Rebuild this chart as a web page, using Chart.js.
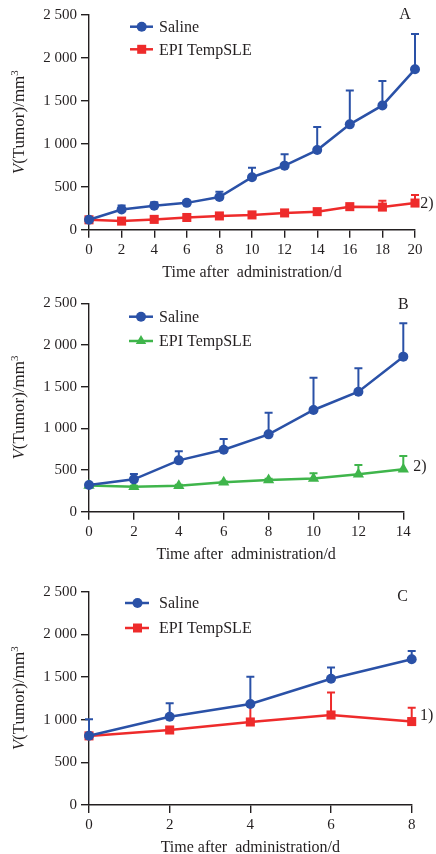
<!DOCTYPE html>
<html><head><meta charset="utf-8">
<script src="https://cdn.jsdelivr.net/npm/chart.js@4/dist/chart.umd.min.js"></script>
<style>
html,body{margin:0;padding:0;background:#fff;}
body{width:436px;height:854px;position:relative;overflow:hidden;}
.p{position:absolute;left:0;width:436px;}
canvas{display:block;}
</style></head>
<body>
<div class="p" style="top:0;height:280px"><canvas id="cA" width="436" height="280"></canvas></div>
<div class="p" style="top:280px;height:280px"><canvas id="cB" width="436" height="280"></canvas></div>
<div class="p" style="top:560px;height:294px"><canvas id="cC" width="436" height="294"></canvas></div>
<script>
// ---- data ----
const daysA=[0,2,4,6,8,10,12,14,16,18,20];
const salineA=[115,235,278,312,380,610,745,926,1225,1445,1865];
const salineA_err=[10,45,42,10,62,111,131,268,395,284,410];
const epiA=[115,100,120,142,160,172,195,210,268,263,310];
const epiA_err=[15,10,10,10,10,10,10,10,10,74,93];

const daysB=[0,2,4,6,8,10,12,14];
const salineB=[320,388,616,744,928,1220,1440,1860];
const salineB_err=[10,64,108,128,260,388,280,400];
const epiB=[315,300,312,352,380,398,449,508];
const epiB_err=[10,10,10,10,15,64,110,160];

const daysC=[0,2,4,6,8];
const salineC=[812,1035,1184,1480,1709];
const salineC_err=[193,157,320,133,96];
const epiC=[810,879,973,1055,978];
const epiC_err=[10,10,200,265,163];

const yTicks=[0,500,1000,1500,2000,2500];
const seriesNames=['Saline','EPI TempSLE'];
const panelLetters=['A','B','C'];
const noteLabels=['2)','2)','1)'];
const xTitle='Time after  administration/d';

// ---- style ----
const BLUE='#2a51a7', RED='#ee2b2b', GREEN='#3fb54b', AX='#231f20';
const FONT='"Liberation Serif","Times New Roman",serif';

const panels=[
 {id:'cA',h:280,area:{l:89,r:415,t:14.7,b:229.7},days:daysA,xmax:20,s:salineA,se:salineA_err,e:epiA,ee:epiA_err,ec:RED,es:'rect',
  leg:{x1:130,x2:153,mx:141.7,y1:26.7,y2:49.3,tx:159},letter:{x:405,y:15},note:{x:427,y:203.3}},
 {id:'cB',h:280,area:{l:89,r:403.3,t:23.3,b:231.7},days:daysB,xmax:14,s:salineB,se:salineB_err,e:epiB,ee:epiB_err,ec:GREEN,es:'triangle',
  leg:{x1:129,x2:153,mx:141,y1:36.7,y2:61,tx:159},letter:{x:403.3,y:25},note:{x:420,y:186.7}},
 {id:'cC',h:294,area:{l:89,r:411.7,t:31.7,b:245},days:daysC,xmax:8,s:salineC,se:salineC_err,e:epiC,ee:epiC_err,ec:RED,es:'rect',
  leg:{x1:125,x2:149,mx:137.5,y1:43,y2:68,tx:159},letter:{x:402.7,y:36.7},note:{x:426.7,y:156}}
];

function fmt(v){
  if(v>=1000){return Math.floor(v/1000)+' '+String(v%1000).padStart(3,'0');}
  return String(v);
}

function marker(ctx,style,x,y,color){
  ctx.save();ctx.fillStyle=color;ctx.beginPath();
  if(style==='circle'){ctx.arc(x,y,5,0,Math.PI*2);}
  else if(style==='rect'){ctx.rect(x-4.5,y-4.5,9,9);}
  else {const r=6;ctx.moveTo(x,y-r);ctx.lineTo(x+r*0.866,y+r*0.5);ctx.lineTo(x-r*0.866,y+r*0.5);ctx.closePath();}
  ctx.fill();ctx.restore();
}

panels.forEach((P,pi)=>{
  const pts=(days,vals)=>days.map((d,i)=>({x:d,y:vals[i]}));
  const deco={
    id:'deco'+pi,
    beforeDatasetsDraw(chart){
      const ctx=chart.ctx,xs=chart.scales.x,ys=chart.scales.y;
      const sets=[[P.e,P.ee,P.ec],[P.s,P.se,BLUE]];
      sets.forEach(([vals,errs,col])=>{
        ctx.save();ctx.strokeStyle=col;ctx.lineWidth=2;
        P.days.forEach((d,i)=>{
          const x=xs.getPixelForValue(d),y0=ys.getPixelForValue(vals[i]),y1=ys.getPixelForValue(vals[i]+errs[i]);
          ctx.beginPath();ctx.moveTo(x,y0);ctx.lineTo(x,y1);ctx.moveTo(x-4,y1);ctx.lineTo(x+4,y1);ctx.stroke();
        });
        ctx.restore();
      });
    },
    afterDraw(chart){
      const ctx=chart.ctx,a=chart.chartArea;
      ctx.save();
      ctx.fillStyle=AX;ctx.textBaseline='middle';
      // x title
      ctx.font='16px '+FONT;ctx.textAlign='center';
      ctx.fillText(xTitle,(a.left+a.right)/2,a.bottom+43);
      // y title
      ctx.save();
      ctx.translate(20,(a.top+a.bottom)/2);ctx.rotate(-Math.PI/2);
      const fi='italic 17px '+FONT,fn='17px '+FONT,fs='11px '+FONT;
      ctx.font=fi;const w1=ctx.measureText('V').width;
      ctx.font=fn;const w2=ctx.measureText('(Tumor)/mm').width;
      ctx.font=fs;const w3=ctx.measureText('3').width;
      let sx=-(w1+w2+w3)/2;ctx.textAlign='left';
      ctx.font=fi;ctx.fillText('V',sx,0);sx+=w1;
      ctx.font=fn;ctx.fillText('(Tumor)/mm',sx,0);sx+=w2;
      ctx.font=fs;ctx.fillText('3',sx,-5);
      ctx.restore();
      // legend
      const L=P.leg;
      [[BLUE,'circle',L.y1,seriesNames[0]],[P.ec,P.es,L.y2,seriesNames[1]]].forEach(([c,st,y,t])=>{
        ctx.save();ctx.strokeStyle=c;ctx.lineWidth=2.5;ctx.beginPath();ctx.moveTo(L.x1,y);ctx.lineTo(L.x2,y);ctx.stroke();ctx.restore();
        marker(ctx,st,L.mx,y,c);
        ctx.fillStyle=AX;ctx.font='16px '+FONT;ctx.textAlign='left';ctx.fillText(t,L.tx,y+1);
      });
      // panel letter + note
      ctx.font='16px '+FONT;ctx.textAlign='center';
      ctx.fillText(panelLetters[pi],P.letter.x,P.letter.y);
      ctx.fillText(noteLabels[pi],P.note.x,P.note.y);
      ctx.restore();
    }
  };
  new Chart(document.getElementById(P.id),{
    type:'line',
    data:{datasets:[
      {label:seriesNames[0],data:pts(P.days,P.s),borderColor:BLUE,backgroundColor:BLUE,borderWidth:2.5,pointStyle:'circle',pointRadius:5,pointBorderWidth:0,pointBackgroundColor:BLUE,clip:false,tension:0},
      {label:seriesNames[1],data:pts(P.days,P.e),borderColor:P.ec,backgroundColor:P.ec,borderWidth:2.5,pointStyle:P.es,pointRadius:P.es==='rect'?6.4:6.5,pointBorderWidth:0,pointBackgroundColor:P.ec,clip:false,tension:0}
    ]},
    options:{
      responsive:false,animation:false,devicePixelRatio:1,
      layout:{padding:{left:0,top:P.area.t,right:436-P.area.r,bottom:0}},
      plugins:{legend:{display:false},tooltip:{enabled:false}},
      scales:{
        x:{type:'linear',min:0,max:P.xmax,
          afterFit(s){s.height=P.h-P.area.b;},
          afterBuildTicks(s){s.ticks=P.days.map(v=>({value:v}));},
          border:{display:true,color:AX,width:1.4},
          grid:{display:true,drawOnChartArea:false,drawTicks:true,tickLength:8,color:AX,lineWidth:1.4},
          ticks:{color:AX,font:{family:FONT,size:15},padding:3,maxRotation:0,autoSkip:false}},
        y:{type:'linear',min:0,max:2500,
          afterFit(s){s.width=P.area.l;},
          afterBuildTicks(s){s.ticks=yTicks.map(v=>({value:v}));},
          border:{display:true,color:AX,width:1.4},
          grid:{display:true,drawOnChartArea:false,drawTicks:true,tickLength:8,color:AX,lineWidth:1.4},
          ticks:{color:AX,font:{family:FONT,size:15},padding:4,callback:v=>fmt(v)}}
      }
    },
    plugins:[deco]
  });
});
</script>
</body></html>
